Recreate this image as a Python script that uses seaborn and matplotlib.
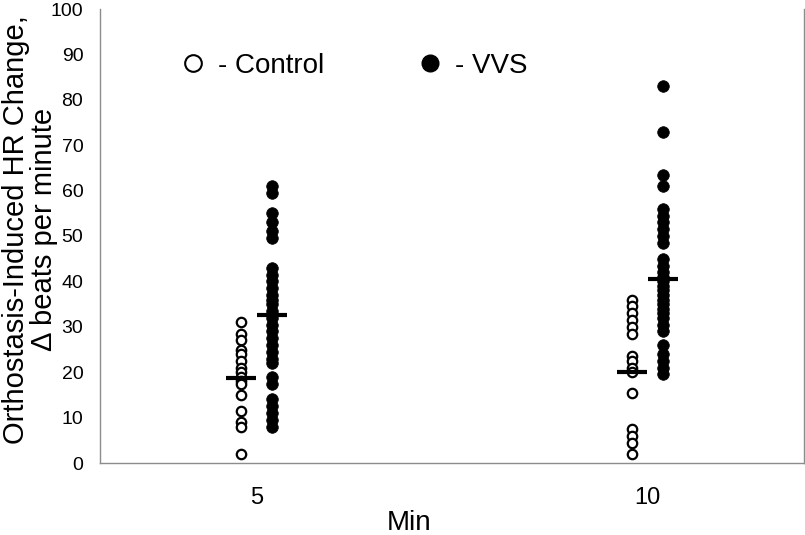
import pandas as pd
import matplotlib
matplotlib.use("Agg")
import matplotlib.pyplot as plt
from matplotlib.lines import Line2D
import seaborn as sns

# HR change after orthostasis, beats per minute
control_5 = [31, 28.5, 27, 25, 24, 22.5, 21, 20, 19, 18, 17.5, 15, 11.5, 9, 8, 2]
vvs_5 = [61, 59.5, 55, 53, 51, 49.5, 43, 41.5, 40, 38.5, 37, 36, 35, 33.5,
         32, 30.5, 29, 27.5, 26, 24.5, 23, 22, 19, 17.5, 14, 12.5, 11, 9.5, 8]
control_10 = [36, 34.5, 33, 31.5, 30, 28.5, 23.5, 22.5, 21, 20, 15.5,
              7.5, 6, 4.5, 2]
vvs_10 = [83, 73, 63.5, 61, 56, 54.5, 53, 51.5, 50, 48.5, 45, 43.5, 42, 41,
          40, 39, 38, 37, 36, 35, 34, 33, 32, 30.5, 29, 26, 24, 22.5, 21, 19.5]

minutes = [5, 10]
control_means = [18.8, 20.0]
vvs_means = [32.5, 40.5]

# Build long tables; control sits left of the tick, VVS right of it
shift = {"Control": -0.2, "VVS": 0.2}
rows = []
for grp, m, vals in [("Control", 5, control_5), ("VVS", 5, vvs_5),
                     ("Control", 10, control_10), ("VVS", 10, vvs_10)]:
    for v in vals:
        rows.append(dict(group=grp, minute=m, x=m + shift[grp], hr=v))
df = pd.DataFrame(rows)

mean_rows = []
for grp, means in [("Control", control_means), ("VVS", vvs_means)]:
    for m, v in zip(minutes, means):
        mean_rows.append(dict(group=grp, x=m + shift[grp], hr=v))
means_df = pd.DataFrame(mean_rows)

sns.set_style("white")
plt.rcParams["font.family"] = ["Liberation Sans", "DejaVu Sans"]
plt.rcParams["text.color"] = "black"
plt.rcParams["axes.labelcolor"] = "black"

fig = plt.figure(figsize=(8.05, 5.35), dpi=100)
ax = fig.add_axes([100 / 805, 72 / 535, 704 / 805, 454 / 535])

sns.scatterplot(data=df[df.group == "Control"], x="x", y="hr", marker="o",
                s=46, color="white", edgecolor="black", linewidth=1.6,
                zorder=3, ax=ax)
sns.scatterplot(data=df[df.group == "VVS"], x="x", y="hr", marker="o",
                s=70, color="black", edgecolor="black", linewidth=0.5,
                zorder=3, ax=ax)
sns.scatterplot(data=means_df, x="x", y="hr", marker="_", s=480,
                color="black", linewidth=3, zorder=4, ax=ax)

ax.set_xlim(3, 12)
ax.set_ylim(0, 100)
ax.set_xticks(minutes)
ax.set_xticks([6, 7, 8, 9], minor=True)
ax.set_yticks(range(0, 101, 10))
ax.tick_params(axis="x", which="both", direction="in", length=8,
               width=1, color="#8c8c8c", labelcolor="black",
               labelsize=17, pad=17)
ax.tick_params(axis="y", length=0, labelsize=14, pad=12,
               labelcolor="black")

for side in ["left", "bottom", "right"]:
    ax.spines[side].set_color("#8c8c8c")
    ax.spines[side].set_linewidth(1)
ax.spines["top"].set_visible(False)

ax.set_ylabel("Orthostasis-Induced HR Change,\n\u0394 beats per minute",
              fontsize=21, linespacing=1.0)
ax.yaxis.set_label_coords(-0.06, 0.515)
ax.set_xlabel("Min", fontsize=20)
ax.xaxis.set_label_coords(0.439, -0.103)

handles = [
    Line2D([], [], marker="o", ls="", mfc="white", mec="black", ms=12,
           mew=1.5, label="- Control"),
    Line2D([], [], marker="o", ls="", mfc="black", mec="black", ms=12,
           label="- VVS"),
]
ax.legend(handles=handles, ncol=2, frameon=False, loc="center left",
          bbox_to_anchor=(0.112, 0.874), borderpad=0, borderaxespad=0,
          fontsize=20, handlelength=1.0, handletextpad=0.4,
          columnspacing=3.3)

plt.savefig("out.png", dpi=100)
